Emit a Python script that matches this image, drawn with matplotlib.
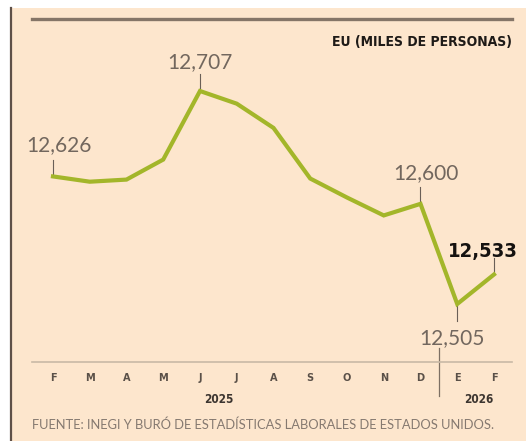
import matplotlib
matplotlib.use("Agg")
import matplotlib.pyplot as plt
from matplotlib.patches import Rectangle
from matplotlib.lines import Line2D

# data (miles de personas)
months = ["F", "M", "A", "M", "J", "J", "A", "S", "O", "N", "D", "E", "F"]
values = [12626, 12621, 12623, 12642, 12707, 12695, 12672, 12624, 12606, 12589, 12600, 12505, 12533]
years = ["2025", "2026"]
title = "EU (MILES DE PERSONAS)"
source = "FUENTE: INEGI Y BURÓ DE ESTADÍSTICAS LABORALES DE ESTADOS UNIDOS."

BG = "#fde6cd"
LINE = "#a3b62a"
GRAY = "#72675e"
NARROW = ["DejaVu Sans Condensed", "DejaVu Sans"]
LIGHT = ["Lato", "DejaVu Sans"]

W, H = 526, 441
fig = plt.figure(figsize=(W / 100, H / 100), dpi=100)
fig.patch.set_facecolor("white")

# peach panel + dark left rule
fig.add_artist(Rectangle((11 / W, 0), 1, (H - 8) / H, transform=fig.transFigure,
                         facecolor=BG, edgecolor="none", zorder=0))
fig.add_artist(Line2D([10.5 / W, 10.5 / W], [0, (H - 8) / H], transform=fig.transFigure,
                      color="#5e5048", lw=1.6))

ax = fig.add_axes([32 / W, (H - 362) / H, 480 / W, 343 / H])
ax.set_facecolor("none")
x = list(range(len(months)))
ax.plot(x, values, color=LINE, lw=3.0, solid_joinstyle="miter", zorder=3)
ax.set_xlim(-0.571, 12.49)
ax.set_ylim(12450, 12775.3)

for s in ["left", "right"]:
    ax.spines[s].set_visible(False)
ax.spines["top"].set_color("#857567")
ax.spines["top"].set_linewidth(2.4)
ax.spines["bottom"].set_color("#c9b9a6")
ax.spines["bottom"].set_linewidth(1.2)
ax.set_yticks([])
ax.set_xticks(x)
ax.set_xticklabels(months, family=NARROW, fontstretch="condensed", fontweight="bold",
                   fontsize=7.8, color="#5a5048")
ax.tick_params(axis="x", length=0, pad=8)

# year separator and labels
ax.plot([10.5, 10.5], [0.04, -0.1], transform=ax.get_xaxis_transform(),
        color="#7d6f63", lw=0.9, clip_on=False)
for xi, yr in zip([4.5, 11.6], years):
    ax.text(xi, -0.108, yr, transform=ax.get_xaxis_transform(), ha="center", va="center",
            family=NARROW, fontstretch="condensed", fontweight="bold", fontsize=8.5,
            color="#3c3530")

# value labels with leader ticks
labels = [(0, 6, 31, False), (4, 0, 29, False), (10, 5, 31, False),
          (11, -5, -34, False), (12, -11, 23, True)]
for i, dx, dy, bold in labels:
    v = values[i]
    sign = 1 if dy > 0 else -1
    ax.plot([i, i], [v + sign * 1.5, v + sign * 16], color="#6a5f57", lw=0.8, zorder=2)
    txt = f"{v:,}"
    if bold:
        ax.annotate(txt, (i, v), xytext=(dx, dy), textcoords="offset pixels",
                    ha="center", va="center", family=NARROW, fontstretch="condensed",
                    fontweight="bold", fontsize=14.5, color="#151210")
    else:
        ax.annotate(txt, (i, v), xytext=(dx, dy), textcoords="offset pixels",
                    ha="center", va="center", family=LIGHT, fontsize=15, color=GRAY)

fig.text(512 / W, 1 - 42 / H, title, ha="right", va="center", family=NARROW,
         fontstretch="condensed", fontweight="bold", fontsize=10, color="#1e1a17")
fig.text(32 / W, 1 - 425 / H, source, ha="left", va="center", family=LIGHT,
         fontsize=9.3, color="#857970")

fig.savefig("out.png", dpi=100, facecolor=fig.get_facecolor())
